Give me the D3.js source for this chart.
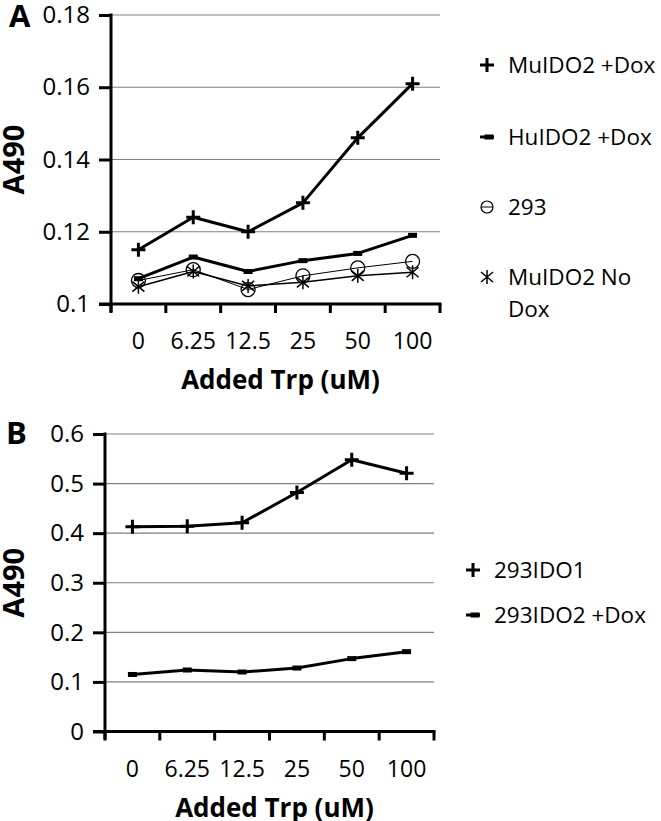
<!DOCTYPE html>
<html><head><meta charset="utf-8">
<script src="https://cdn.jsdelivr.net/npm/d3@7"></script>
<style>body{margin:0;background:#fff}svg{display:block}text{font-family:"Open Sans",sans-serif;fill:#000}</style>
</head><body><svg id="c" width="661" height="821"></svg>
<script>
const categories = ["0","6.25","12.5","25","50","100"];
// Panel A
const muIDO2Dox   = [0.115,0.124,0.120,0.128,0.146,0.161];
const huIDO2Dox   = [0.107,0.113,0.109,0.112,0.114,0.119];
const cells293    = [0.1065,0.1095,0.104,0.1078,0.110,0.1118];
const muIDO2NoDox = [0.1048,0.109,0.105,0.106,0.1078,0.1088];
const yTicksA = [0.1,0.12,0.14,0.16,0.18];
// Panel B
const ido1_293    = [0.413,0.414,0.421,0.482,0.548,0.521];
const ido2Dox_293 = [0.115,0.124,0.120,0.128,0.147,0.161];
const yTicksB = [0,0.1,0.2,0.3,0.4,0.5,0.6];

const svg = d3.select("#c");

function marker(g, type, x, y){
  const m = g.append("g").attr("transform",`translate(${x},${y})`);
  if(type==="plus"){
    m.append("path").attr("d","M-7,0H7M0,-7V7").attr("stroke","#000").attr("stroke-width",3);
  } else if(type==="dash"){
    m.append("rect").attr("x",-4.5).attr("y",-2.5).attr("width",9).attr("height",5).attr("fill","#000");
  } else if(type==="circle"){
    m.append("circle").attr("r",7).attr("fill","none").attr("stroke","#000").attr("stroke-width",1.3);
  } else if(type==="star"){
    m.append("path").attr("d","M0,-7V7M-6,-5L6,5M-6,5L6,-5").attr("stroke","#000").attr("stroke-width",1.5);
  }
}

function panel(cfg){
  const g = svg.append("g");
  const x = d3.scaleBand().domain(categories).range([cfg.x0,cfg.x1]);
  const y = d3.scaleLinear().domain(cfg.domain).range([cfg.yb,cfg.yt]);
  g.append("g").selectAll("line").data(cfg.ticks.slice(1)).join("line")
    .attr("x1",cfg.x0).attr("x2",cfg.x1).attr("y1",d=>y(d)).attr("y2",d=>y(d))
    .attr("stroke","#808080").attr("stroke-width",1.2);
  const ya = g.append("g").attr("transform",`translate(${cfg.x0},0)`)
    .call(d3.axisLeft(y).tickValues(cfg.ticks).tickSize(12).tickPadding(9).tickFormat(d3.format("")));
  ya.select(".domain").remove();
  ya.selectAll(".tick line").attr("stroke","#000").attr("stroke-width",3);
  ya.selectAll("text").attr("font-size",24).attr("font-family","Open Sans");
  g.append("line").attr("x1",cfg.x0).attr("x2",cfg.x0).attr("y1",cfg.yt-1.5).attr("y2",cfg.yb+8)
    .attr("stroke","#000").attr("stroke-width",3);
  g.append("line").attr("x1",cfg.x0-12).attr("x2",cfg.x1+1.5).attr("y1",cfg.yb).attr("y2",cfg.yb)
    .attr("stroke","#000").attr("stroke-width",3);
  const bounds = categories.map(c=>x(c)).concat([cfg.x1]);
  g.append("g").selectAll("line").data(bounds).join("line")
    .attr("x1",d=>d).attr("x2",d=>d).attr("y1",cfg.yb).attr("y2",cfg.yb+9)
    .attr("stroke","#000").attr("stroke-width",3);
  g.append("g").selectAll("text").data(categories).join("text")
    .attr("x",d=>x(d)+x.bandwidth()/2).attr("y",cfg.yb+45).attr("text-anchor","middle")
    .attr("font-size",23).text(d=>d);
  g.append("text").attr("x",(cfg.x0+cfg.x1)/2+5).attr("y",cfg.yb+85).attr("text-anchor","middle")
    .attr("font-size",26).attr("font-weight","bold").text("Added Trp (uM)");
  g.append("text").attr("transform",`translate(${cfg.ytx},${(cfg.yt+cfg.yb)/2}) rotate(-90)`)
    .attr("text-anchor","middle").attr("font-size",29).attr("font-weight","bold").text("A490");
  g.append("text").attr("x",cfg.lx).attr("y",cfg.ly).attr("font-size",31).attr("font-weight","bold").text(cfg.label);
  const cx = d=>x(d)+x.bandwidth()/2;
  cfg.series.forEach(s=>{
    const line = d3.line().x((v,i)=>cx(categories[i])).y(v=>y(v));
    g.append("path").attr("d",line(s.values)).attr("fill","none").attr("stroke","#000")
      .attr("stroke-width",s.w).attr("stroke-linejoin","round");
    s.values.forEach((v,i)=>marker(g,s.m,cx(categories[i]),y(v)));
  });
  cfg.series.forEach((s,i)=>{
    const ly = cfg.legY[i];
    if(s.m==="dash"){
      g.append("line").attr("x1",cfg.legX-7).attr("x2",cfg.legX+7).attr("y1",ly).attr("y2",ly).attr("stroke","#000").attr("stroke-width",3);
      marker(g,"dash",cfg.legX+2,ly);
    } else if(s.m==="circle"){
      g.append("line").attr("x1",cfg.legX-6).attr("x2",cfg.legX+6).attr("y1",ly).attr("y2",ly).attr("stroke","#000").attr("stroke-width",1);
      g.append("circle").attr("cx",cfg.legX).attr("cy",ly).attr("r",6).attr("fill","none").attr("stroke","#000").attr("stroke-width",1.2);
    } else marker(g,s.m,cfg.legX,ly);
    const t = g.append("text").attr("x",cfg.legX+21).attr("y",ly).attr("font-size",22.5);
    s.name.forEach((n,j)=>t.append("tspan").attr("x",cfg.legX+21).attr("dy",j===0?"0.36em":"1.4em").text(n));
  });
}

panel({label:"A",lx:9,ly:27,x0:111,x1:440,yt:15,yb:304,domain:[0.1,0.18],ticks:yTicksA,ytx:24,
  legX:487,legY:[65,137,207,277],
  series:[
    {name:["MuIDO2 +Dox"],values:muIDO2Dox,m:"plus",w:3},
    {name:["HuIDO2 +Dox"],values:huIDO2Dox,m:"dash",w:3},
    {name:["293"],values:cells293,m:"circle",w:1},
    {name:["MuIDO2 No","Dox"],values:muIDO2NoDox,m:"star",w:1.5}
  ]});
panel({label:"B",lx:6,ly:444,x0:105,x1:434,yt:434,yb:731.5,domain:[0,0.6],ticks:yTicksB,ytx:24,
  legX:473,legY:[570,615],
  series:[
    {name:["293IDO1"],values:ido1_293,m:"plus",w:3},
    {name:["293IDO2 +Dox"],values:ido2Dox_293,m:"dash",w:3}
  ]});
</script></body></html>
